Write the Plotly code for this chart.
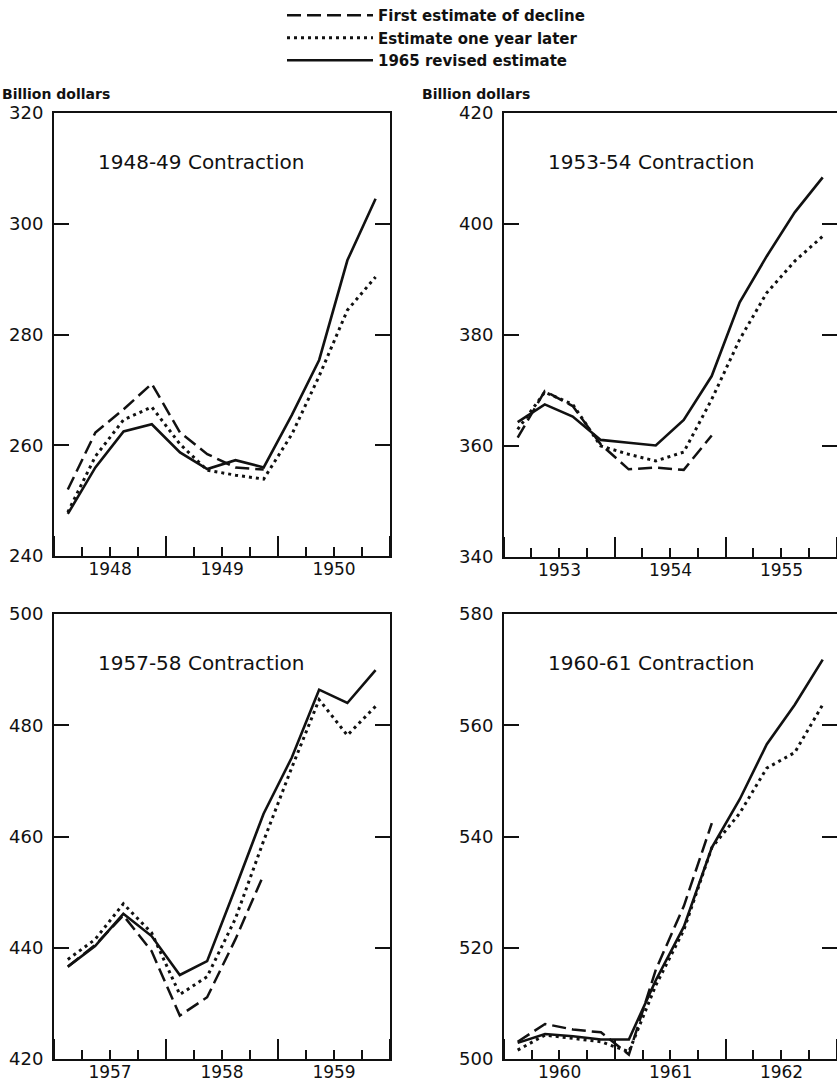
import plotly.graph_objects as go

# ---------------- data (billion dollars, quarterly) ----------------
quarters_1948 = ["1948Q1", "1948Q2", "1948Q3", "1948Q4", "1949Q1", "1949Q2",
                 "1949Q3", "1949Q4", "1950Q1", "1950Q2", "1950Q3", "1950Q4"]
first_1948 = [252.0, 262.3, 266.5, 271.1, 262.3, 258.4, 256.0, 255.6]
later_1948 = [247.9, 258.0, 264.6, 266.9, 260.2, 255.5, 254.6, 253.9, 262.0, 272.5, 284.4, 290.4]
revised_1948 = [247.6, 256.0, 262.5, 263.8, 258.7, 255.7, 257.3, 256.0, 265.5, 275.4, 293.4, 304.5]

quarters_1953 = ["1953Q1", "1953Q2", "1953Q3", "1953Q4", "1954Q1", "1954Q2",
                 "1954Q3", "1954Q4", "1955Q1", "1955Q2", "1955Q3", "1955Q4"]
first_1953 = [361.5, 369.9, 367.2, 360.3, 355.8, 356.1, 355.7, 361.9]
later_1953 = [363.0, 369.7, 367.5, 360.0, 358.5, 357.3, 358.9, 368.4, 379.2, 387.6, 393.3, 397.8]
revised_1953 = [364.3, 367.5, 365.3, 361.1, 360.6, 360.1, 364.7, 372.6, 385.9, 394.2, 402.1, 408.4]

quarters_1957 = ["1957Q1", "1957Q2", "1957Q3", "1957Q4", "1958Q1", "1958Q2",
                 "1958Q3", "1958Q4", "1959Q1", "1959Q2", "1959Q3", "1959Q4"]
first_1957 = [436.6, 440.5, 445.8, 439.4, 427.8, 431.1, 441.5, 453.1]
later_1957 = [437.9, 441.5, 447.9, 442.7, 431.6, 434.8, 445.2, 459.2, 472.4, 484.6, 478.2, 483.4]
revised_1957 = [436.6, 440.3, 446.1, 442.1, 435.1, 437.6, 450.7, 464.1, 474.2, 486.4, 484.0, 489.9]

quarters_1960 = ["1960Q1", "1960Q2", "1960Q3", "1960Q4", "1961Q1", "1961Q2",
                 "1961Q3", "1961Q4", "1962Q1", "1962Q2", "1962Q3", "1962Q4"]
first_1960 = [503.1, 506.3, 505.3, 504.8, 500.8, 516.1, 527.5, 542.4]
later_1960 = [501.6, 504.3, 503.7, 503.1, 501.3, 513.3, 523.2, 538.0, 544.2, 552.3, 555.1, 563.7]
revised_1960 = [502.9, 504.5, 504.1, 503.5, 503.5, 514.2, 523.8, 538.0, 546.7, 556.6, 563.7, 571.8]

panel_titles = ["1948-49 Contraction", "1953-54 Contraction",
                "1957-58 Contraction", "1960-61 Contraction"]
start_years = [1948, 1953, 1957, 1960]
y_ranges = [[240, 320], [340, 420], [420, 500], [500, 580]]
series_names = ["First estimate of decline", "Estimate one year later", "1965 revised estimate"]
y_label = "Billion dollars"


def mid_quarter(q):
    year, qq = q.split("Q")
    month = 3 * (int(qq) - 1) + 2
    return f"{year}-{month:02d}-15"


panels = [
    (quarters_1948, first_1948, later_1948, revised_1948),
    (quarters_1953, first_1953, later_1953, revised_1953),
    (quarters_1957, first_1957, later_1957, revised_1957),
    (quarters_1960, first_1960, later_1960, revised_1960),
]

# ---------------- layout geometry ----------------
W, H = 837, 1081
FONT = "DejaVu Sans"
INK = "#111111"
x_domains = [[54 / W, 390 / W], [504 / W, 1.0], [54 / W, 390 / W], [504 / W, 1.0]]
y_domains = [[1 - 556 / H, 1 - 113 / H], [1 - 557 / H, 1 - 113 / H],
             [1 - 1059 / H, 1 - 614 / H], [1 - 1059 / H, 1 - 614 / H]]

styles = [
    dict(color=INK, width=2.5, dash="14px,6px"),
    dict(color=INK, width=3, dash="3px,4px"),
    dict(color=INK, width=2.6),
]

fig = go.Figure()
annotations = []
for i, (qs, first, later, revised) in enumerate(panels):
    n = i + 1
    xa = "x" if n == 1 else f"x{n}"
    ya = "y" if n == 1 else f"y{n}"
    xs = [mid_quarter(q) for q in qs]
    for j, vals in enumerate([first, later, revised]):
        fig.add_trace(go.Scatter(
            x=xs[:len(vals)], y=vals, mode="lines", line=styles[j],
            name=series_names[j], showlegend=(i == 0),
            xaxis=xa, yaxis=ya, hoverinfo="skip"))
    y0 = start_years[i]
    fig.layout[("xaxis" if n == 1 else f"xaxis{n}")] = dict(
        domain=x_domains[i], anchor=ya, type="date", automargin=False,
        range=[f"{y0}-01-01", f"{y0 + 3}-01-01"],
        tick0=f"{y0}-01-01", dtick="M12", ticklabelmode="period", tickformat="%Y",
        ticks="inside", ticklen=20, tickwidth=2, tickcolor=INK,
        ticklabelstandoff=-3,
        minor=dict(dtick="M3", tick0=f"{y0}-01-01", ticks="inside", ticklen=9,
                   tickwidth=2, tickcolor=INK, showgrid=False),
        showline=True, linewidth=2, linecolor=INK, mirror=True,
        showgrid=False, zeroline=False,
        tickfont=dict(family=FONT, size=17, color=INK))
    fig.layout[("yaxis" if n == 1 else f"yaxis{n}")] = dict(
        domain=y_domains[i], anchor=xa, range=y_ranges[i], dtick=20,
        automargin=False,
        ticks="inside", ticklen=15, tickwidth=2, tickcolor=INK,
        showline=True, linewidth=2, linecolor=INK, mirror="ticks",
        showgrid=False, zeroline=False, ticklabelstandoff=5,
        tickfont=dict(family=FONT, size=18, color=INK))
    annotations.append(dict(
        text=panel_titles[i], xref=f"{xa} domain", yref=f"{ya} domain",
        x=0.125, y=0.89, xanchor="left", yanchor="middle", showarrow=False,
        font=dict(family=FONT, size=20, color=INK)))

for xp in [0.0, 420 / W]:
    annotations.append(dict(
        text=y_label, xref="paper", yref="paper", x=xp, y=1 - 94 / H,
        xanchor="left", yanchor="middle", showarrow=False,
        font=dict(family=FONT, size=14, color=INK, weight="bold")))

fig.update_layout(
    width=W, height=H, margin=dict(l=0, r=0, t=0, b=0, autoexpand=False),
    paper_bgcolor="white", plot_bgcolor="white",
    annotations=annotations,
    legend=dict(x=282 / W, y=1.0 + 1 / H, xanchor="left", yanchor="top",
                itemwidth=86, tracegroupgap=0, bgcolor="rgba(0,0,0,0)",
                font=dict(family=FONT, size=15, color=INK, weight="bold")),
)

fig.write_html("out.html", config={"displayModeBar": False},
               post_script="document.body.style.margin='0';"
                           "document.documentElement.style.overflow='hidden';")
